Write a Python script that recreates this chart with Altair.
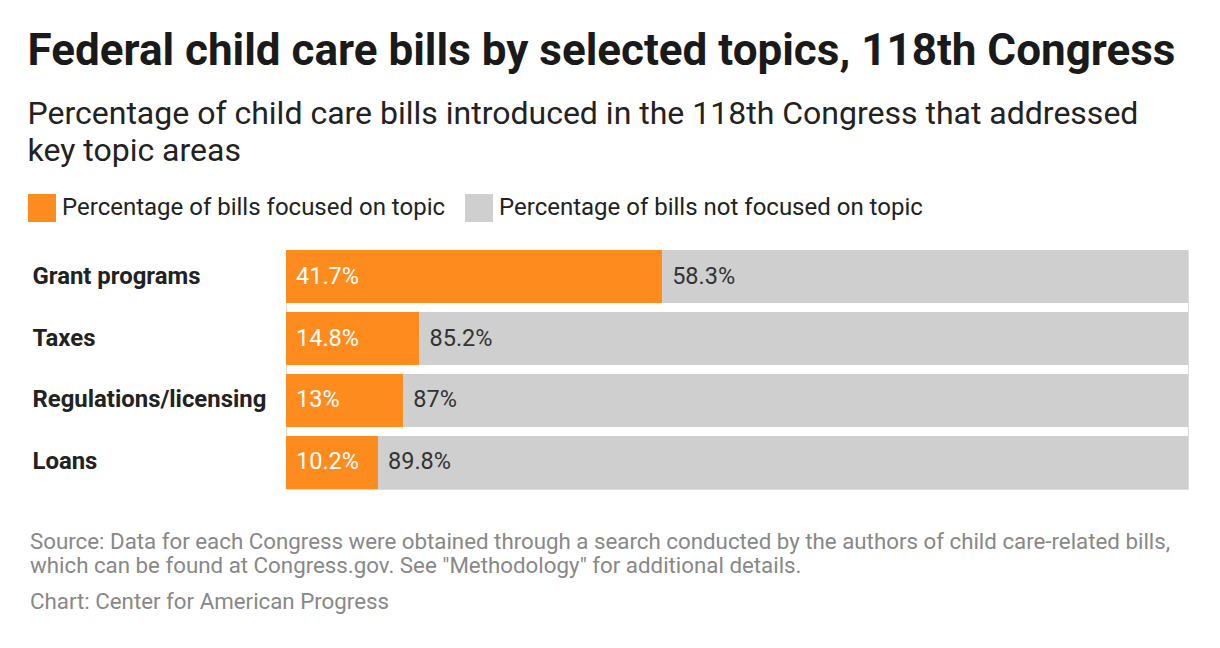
import altair as alt
import pandas as pd

topics = ["Grant programs", "Taxes", "Regulations/licensing", "Loans"]
focused = [41.7, 14.8, 13, 10.2]
not_focused = [58.3, 85.2, 87, 89.8]
series = ["Percentage of bills focused on topic", "Percentage of bills not focused on topic"]
colors = ["#fd8b1d", "#cfcfcf"]
label_colors = ["#ffffff", "#333333"]

title_text = "Federal child care bills by selected topics, 118th Congress"
subtitle_lines = [
    "Percentage of child care bills introduced in the 118th Congress that addressed",
    "key topic areas",
]
footer_lines = [
    "Source: Data for each Congress were obtained through a search conducted by the authors of child care-related bills,",
    "which can be found at Congress.gov. See \"Methodology\" for additional details.",
]
footer_credit = "Chart: Center for American Progress"

rows = []
for t, f, n in zip(topics, focused, not_focused):
    rows.append({"topic": t, "series": series[0], "value": f, "order": 0})
    rows.append({"topic": t, "series": series[1], "value": n, "order": 1})
df = pd.DataFrame(rows)

FONT = "Roboto"

base = alt.Chart(df).transform_stack(
    stack="value", groupby=["topic"], as_=["x0", "x1"], sort=[alt.SortField("order")]
).transform_calculate(label="datum.value + '%'")

y_enc = alt.Y(
    "topic:N",
    sort=topics,
    title=None,
    scale=alt.Scale(paddingInner=0.145, paddingOuter=0),
    axis=alt.Axis(
        domain=False, ticks=False, labelAlign="left", labelPadding=254,
        labelFont=FONT, labelFontSize=23.9, labelFontWeight="bold", labelColor="#222222",
        labelLimit=400,
    ),
)
x_scale = alt.Scale(domain=[0, 100], nice=False, zero=True)

bars = base.mark_bar().encode(
    y=y_enc,
    x=alt.X("x0:Q", scale=x_scale, axis=None),
    x2="x1:Q",
    color=alt.Color(
        "series:N",
        scale=alt.Scale(domain=series, range=colors),
        legend=alt.Legend(
            title=None, orient="none", direction="horizontal", legendX=-258, legendY=-56,
            symbolType="square", symbolSize=784, symbolStrokeWidth=0, symbolOpacity=1,
            labelFont=FONT, labelFontSize=24, labelColor="#222222", labelOffset=6,
            columnPadding=19, labelLimit=500,
        ),
    ),
)

texts = base.mark_text(align="left", baseline="middle", dx=10, font=FONT, fontSize=23.5).encode(
    y=alt.Y("topic:N", sort=topics),
    x=alt.X("x0:Q", scale=x_scale),
    text="label:N",
    color=alt.Color("series:N", scale=alt.Scale(domain=series, range=label_colors), legend=None),
)

main = alt.layer(bars, texts).resolve_scale(color="independent").properties(width=902, height=239)

footer = alt.Chart(pd.DataFrame({"a": [0]})).mark_text().encode(text=alt.value("")).properties(
    width=902, height=1,
    title=alt.TitleParams(
        text=footer_lines, subtitle=footer_credit, anchor="start", frame="group", dx=-256,
        font=FONT, fontSize=22.3, fontWeight="normal", color="#888888", lineHeight=24,
        subtitleFont=FONT, subtitleFontSize=22.3, subtitleColor="#888888", subtitlePadding=14,
        offset=0,
    ),
)

chart = alt.vconcat(main, footer, spacing=40).properties(
    title=alt.TitleParams(
        text=title_text, subtitle=subtitle_lines, anchor="start",
        font=FONT, fontSize=44, fontWeight="bold", color="#1a1a1a",
        subtitleFont=FONT, subtitleFontSize=32, subtitleColor="#222222",
        subtitleLineHeight=37, subtitlePadding=25, offset=27,
    ),
    padding={"left": 19, "top": 21, "right": 10, "bottom": 10},
).configure_view(stroke=None).configure(background="white")

chart.save("out.html", embed_options={"renderer": "svg", "actions": False})
